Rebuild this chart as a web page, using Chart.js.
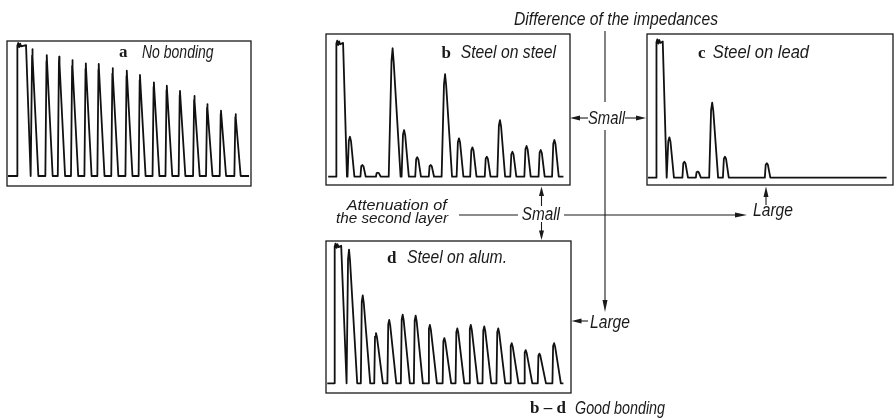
<!DOCTYPE html>
<html>
<head>
<meta charset="utf-8">
<script src="https://cdn.jsdelivr.net/npm/chart.js"></script>
<style>
  body { margin: 0; background: #fff; }
  #page { position: relative; width: 895px; height: 420px; overflow: hidden; }
  canvas { position: absolute; }
  #ann { position: absolute; left: 0; top: 0; }
  .it { font-family: "Liberation Sans Narrow", "Liberation Sans", sans-serif; font-style: italic; font-size: 17.5px; fill: #1a1a1a; }
  .sm { font-size: 15px; }
  .bd { font-family: "Liberation Serif", serif; font-weight: bold; font-size: 17px; fill: #1a1a1a; }
</style>
</head>
<body>
<div id="page">
  <canvas id="pa"></canvas>
  <canvas id="pb"></canvas>
  <canvas id="pc"></canvas>
  <canvas id="pd"></canvas>
  <svg id="ann" width="895" height="420">
    <g stroke="#1a1a1a" stroke-width="1.1" fill="none">
      <line x1="605" y1="31" x2="605" y2="102"/>
      <line x1="605" y1="130" x2="605" y2="301"/>
      <line x1="588" y1="118" x2="576" y2="118"/>
      <line x1="625" y1="118" x2="638" y2="118"/>
      <line x1="459" y1="215" x2="518" y2="215"/>
      <line x1="564" y1="215" x2="737" y2="215"/>
      <line x1="541.5" y1="206" x2="541.5" y2="194"/>
      <line x1="541.5" y1="222" x2="541.5" y2="232"/>
      <line x1="766" y1="205" x2="766" y2="195"/>
      <line x1="588" y1="321" x2="579" y2="321"/>
    </g>
    <g fill="#1a1a1a">
      <polygon points="605,312 602.5,300 607.5,300"/>
      <polygon points="570,118 580,115.5 580,120.5"/>
      <polygon points="646,118 636,115.5 636,120.5"/>
      <polygon points="747,215 735,212.5 735,217.5"/>
      <polygon points="541.5,186.5 539,196 544,196"/>
      <polygon points="541.5,240 539,230.5 544,230.5"/>
      <polygon points="766,186.5 763.5,197 768.5,197"/>
      <polygon points="571.5,321 581.5,318.5 581.5,323.5"/>
    </g>
    <text class="it" x="514" y="25" textLength="204" lengthAdjust="spacingAndGlyphs">Difference of the impedances</text>
    <text class="bd" x="119" y="57">a</text>
    <text class="it" x="142" y="58" textLength="71.6" lengthAdjust="spacingAndGlyphs">No bonding</text>
    <text class="bd" x="441.5" y="58">b</text>
    <text class="it" x="460.7" y="58" textLength="95.3" lengthAdjust="spacingAndGlyphs">Steel on steel</text>
    <text class="bd" x="698" y="58">c</text>
    <text class="it" x="712.7" y="58" textLength="96.3" lengthAdjust="spacingAndGlyphs">Steel on lead</text>
    <text class="bd" x="387" y="263">d</text>
    <text class="it" x="407" y="263" textLength="100" lengthAdjust="spacingAndGlyphs">Steel on alum.</text>
    <text class="it" x="588" y="124" textLength="37" lengthAdjust="spacingAndGlyphs">Small</text>
    <text class="it" x="521.7" y="220" textLength="38.3" lengthAdjust="spacingAndGlyphs">Small</text>
    <text class="it sm" x="346.7" y="209.5" textLength="100" lengthAdjust="spacingAndGlyphs">Attenuation of</text>
    <text class="it sm" x="336" y="223" textLength="112" lengthAdjust="spacingAndGlyphs">the second layer</text>
    <text class="it" x="753" y="216" textLength="40" lengthAdjust="spacingAndGlyphs">Large</text>
    <text class="it" x="590" y="327.5" textLength="40" lengthAdjust="spacingAndGlyphs">Large</text>
    <text class="bd" x="530" y="413">b – d</text>
    <text class="it" x="575" y="414" textLength="90" lengthAdjust="spacingAndGlyphs">Good bonding</text>
  </svg>
</div>
<script>
// echo positions (time, % of screen width) and heights (% of screen height above baseline)
// main pulse: [rise, top, end of flat top, back on baseline]; span: [trace start, trace end]

// a  No bonding
const timesA = [10.4, 16.3, 21.4, 26.8, 32.3, 37.6, 43.3, 49.1, 54.5, 60.2, 65.5, 70.9, 76.8, 82.1, 87.7, 93.7];
const heightsA = [93.9, 89.6, 88.4, 85.9, 83.5, 83.0, 79.8, 78.0, 74.8, 69.4, 66.9, 63.0, 59.3, 53.3, 48.4, 45.9];
const pulseA = [4.1, 98.5, 7.8, 9.7];
const spanA = [0.4, 99.2];

// b  Steel on steel
const timesB = [9.8, 14.9, 21.2, 27.3, 32.0, 37.4, 42.9, 48.8, 54.5, 60.0, 65.9, 71.3, 76.4, 82.2, 88.0, 93.6];
const heightsB = [28.0, 8.2, 2.8, 90.0, 32.7, 13.6, 8.2, 71.8, 26.9, 20.6, 14.0, 39.7, 17.5, 21.5, 18.7, 25.7];
const pulseB = [4.1, 95.3, 7.0, 8.6];
const spanB = [0.9, 97.3];

// c  Steel on lead
const timesC = [9.1, 15.2, 20.6, 26.5, 31.7, 48.7];
const heightsC = [28.1, 11.1, 4.2, 52.2, 14.6, 10.0];
const pulseC = [3.7, 96.3, 6.4, 8.0];
const spanC = [0.4, 97.4];

// d  Steel on alum.
const timesD = [9.4, 15.0, 20.4, 25.8, 31.3, 36.6, 42.4, 48.3, 53.6, 59.1, 64.6, 70.3, 75.8, 81.5, 87.1, 93.1];
const heightsD = [93.9, 61.7, 35.3, 44.5, 48.2, 47.5, 41.0, 31.8, 38.6, 41.0, 40.0, 38.6, 28.2, 23.3, 20.9, 28.2];
const pulseD = [3.4, 98.2, 6.2, 8.4];
const spanD = [0.5, 96.9];

// build the screen trace: baseline, saturated transmitter pulse, then one pulse per echo
function buildTrace(times, heights, pulse, span, shape) {
  const [r, top, fe, fz] = pulse;
  const pts = [{x: span[0], y: 0}, {x: r, y: 0},
    {x: r + 0.15, y: top - 2}, {x: r + 0.5, y: top}, {x: r + 0.9, y: top - 3},
    {x: r + 1.3, y: top - 0.5}, {x: r + 1.7, y: top - 2.5}, {x: fe, y: top - 1.5}, {x: fz, y: 0}];
  times.forEach((t, i) => {
    const h = heights[i];
    const up = shape.rise[0] + shape.rise[1] * h / 100;
    const down = shape.fall[0] + shape.fall[1] * h / 100;
    pts.push({x: t - up, y: 0}, {x: t - shape.cap, y: h * shape.k}, {x: t, y: h},
             {x: t + shape.cap, y: h * (shape.k - 0.01)}, {x: t + down, y: 0});
  });
  pts.push({x: span[1], y: 0});
  return pts;
}

// draws the screen frame around the chart area
const frame = {
  id: 'frame',
  afterDraw(chart) {
    const {ctx, chartArea: a} = chart;
    ctx.save();
    ctx.strokeStyle = '#1a1a1a';
    ctx.lineWidth = 1.3;
    ctx.strokeRect(a.left, a.top, a.right - a.left, a.bottom - a.top);
    ctx.restore();
  }
};

const sharp = {rise: [0.45, 0.15], fall: [1.7, 0.8], cap: 0.12, k: 0.95};
const hump = {rise: [0.7, 1.0], fall: [1.2, 2.3], cap: 0.45, k: 0.9};
const saw = {rise: [0.6, 0.3], fall: [2.5, 0.9], cap: 0.4, k: 0.93};

const panels = [
  {id: 'pa', box: [7, 41, 244, 145], yMin: -7.4, t: timesA, h: heightsA, p: pulseA, s: spanA, shape: sharp},
  {id: 'pb', box: [326, 34, 244, 151], yMin: -5.8, t: timesB, h: heightsB, p: pulseB, s: spanB, shape: hump},
  {id: 'pc', box: [647, 34, 246, 151], yMin: -5.1, t: timesC, h: heightsC, p: pulseC, s: spanC, shape: hump},
  {id: 'pd', box: [326, 240.5, 245, 151.5], yMin: -6.8, t: timesD, h: heightsD, p: pulseD, s: spanD, shape: saw}
];

const pad = 2;
panels.forEach(pn => {
  const cv = document.getElementById(pn.id);
  const [x, y, w, h] = pn.box;
  cv.width = Math.round(w + 2 * pad);
  cv.height = Math.round(h + 2 * pad);
  cv.style.left = (x - pad) + 'px';
  cv.style.top = (y - pad) + 'px';

  new Chart(cv, {
    type: 'line',
    data: {
      datasets: [{
        data: buildTrace(pn.t, pn.h, pn.p, pn.s, pn.shape),
        borderColor: '#111',
        borderWidth: 1.8,
        borderJoinStyle: 'round',
        pointRadius: 0,
        tension: 0,
        fill: false
      }]
    },
    options: {
      responsive: false,
      animation: false,
      events: [],
      layout: { padding: pad },
      plugins: { legend: { display: false }, tooltip: { enabled: false } },
      scales: {
        x: { type: 'linear', min: 0, max: 100, display: false },
        y: { type: 'linear', min: pn.yMin, max: 100, display: false }
      }
    },
    plugins: [frame]
  });
});
</script>
</body>
</html>
